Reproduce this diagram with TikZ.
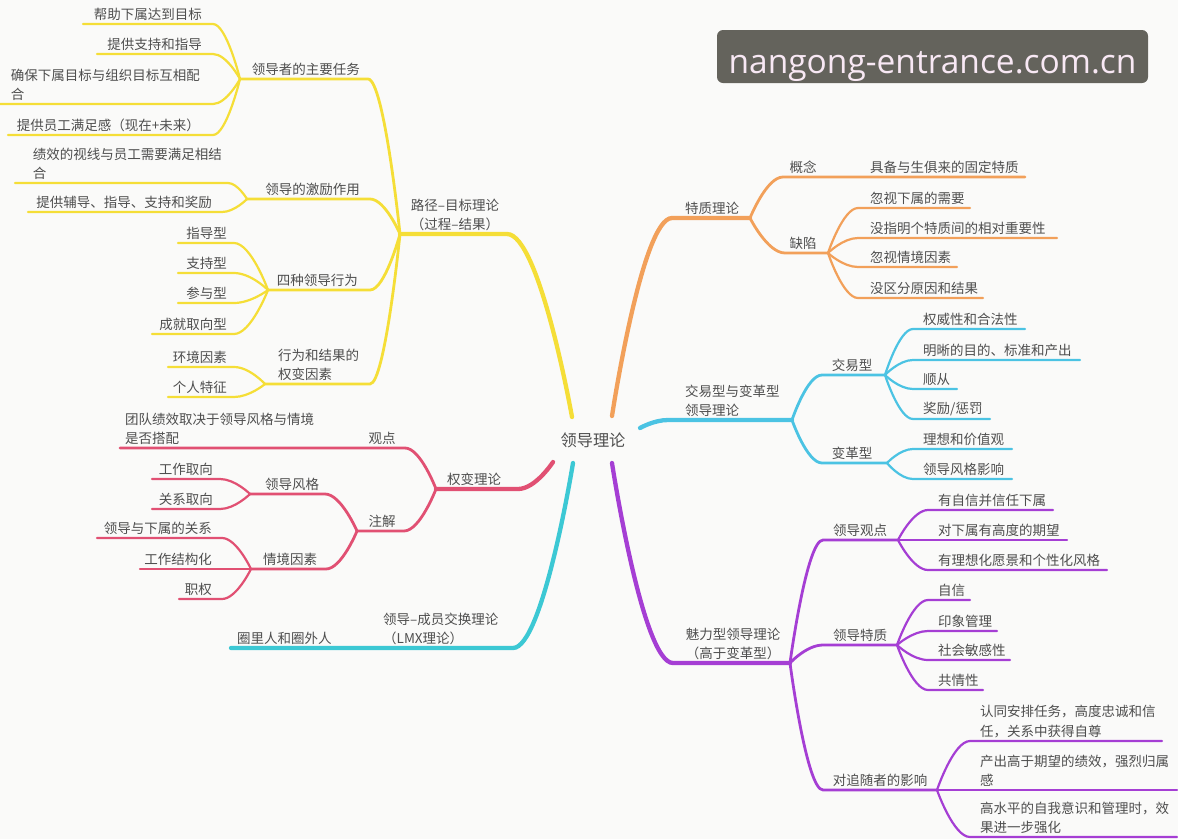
\documentclass[tikz,border=0pt]{standalone}
\usepackage{fontspec}
\setmainfont{Noto Sans CJK SC}
\newfontfamily\wmfont{Open Sans}
\usetikzlibrary{calc}
\definecolor{bgc}{RGB}{250,250,249}
\definecolor{tc}{RGB}{78,78,78}
\definecolor{cY}{RGB}{245,222,55}
\definecolor{cO}{RGB}{242,160,90}
\definecolor{cC}{RGB}{75,195,227}
\definecolor{cR}{RGB}{225,80,115}
\definecolor{cL}{RGB}{60,200,212}
\definecolor{cP}{RGB}{165,62,212}
\definecolor{wmbg}{RGB}{100,99,92}
\definecolor{wmtx}{RGB}{248,232,244}
\tikzset{
  fanto/.style={to path={let \p1=(\tikztostart), \p2=(\tikztotarget) in
     .. controls (\p1) and ({0.5*\x1+0.5*\x2},\y2) .. (\p2) \tikztonodes}},
  txt/.style={font=\fontsize{13.5}{19.5}\selectfont, text=tc, inner sep=0pt, align=left},
  mainln/.style={line width=4.3pt, line cap=round},
  midln/.style={line width=2.8pt, line cap=round},
  lfln/.style={line width=2.2pt, line cap=round}
}
% left leaf: color, knot, id, near x, far x, line y, text, text right x
\newcommand\leafL[8]{%
  \coordinate (#3n) at (#4,#6); \coordinate (#3f) at (#5,#6);
  \draw[lfln,#1] (#2) to[fanto] (#3n) -- (#3f);
  \node[txt,anchor=south east] (#3) at (#8,#6-3) {#7};}
% right leaf: color, knot, id, near x, far x, line y, text, text left x
\newcommand\leafR[8]{%
  \coordinate (#3n) at (#4,#6); \coordinate (#3f) at (#5,#6);
  \draw[lfln,#1] (#2) to[fanto] (#3n) -- (#3f);
  \node[txt,anchor=south west] (#3) at (#8,#6-3) {#7};}
\begin{document}
\begin{tikzpicture}[x=1pt,y=-1pt]
\useasboundingbox (0,0) rectangle (1178,839);
\fill[bgc] (0,0) rectangle (1178,839);

% watermark
\node[fill=wmbg, rounded corners=6pt, minimum width=431pt, minimum height=53pt, inner sep=0pt] (wm) at (932.5,56.5) {};
\node[text=wmtx, font=\wmfont\fontsize{33.5}{33.5}\selectfont, inner sep=0pt, anchor=base] (wmt) at (932.5,73) {nangong-entrance.com.cn};

% root
\node[font=\fontsize{16.2}{16.2}\selectfont, text=tc, inner sep=0pt] (root) at (593,440) {领导理论};

% ===== yellow: path-goal =====
\coordinate (cy) at (572,417);
\coordinate (Y0) at (400,234);
\coordinate (Ya) at (507,234);
\draw[mainln,cY] (cy) to[fanto] (Ya) -- (Y0);
\node[txt,align=center,anchor=south] (ty) at (455,231) {路径–目标理论\\（过程–结果）};

\coordinate (K1) at (240,79); \coordinate (K1a) at (368,79);
\draw[midln,cY] (Y0) to[fanto] (K1a) -- (K1);
\node[txt,anchor=south east] (tk1) at (360,76) {领导者的主要任务};
\leafL{cY}{K1}{y11}{213}{83}{24}{帮助下属达到目标}{202}
\leafL{cY}{K1}{y12}{213}{97}{54}{提供支持和指导}{202}
\leafL{cY}{K1}{y13}{213}{0}{104}{确保下属目标与组织目标互相配\\合}{200}
\leafL{cY}{K1}{y14}{213}{8}{135}{提供员工满足感（现在+未来）}{200}

\coordinate (K2) at (247,199); \coordinate (K2a) at (370,199);
\draw[midln,cY] (Y0) to[fanto] (K2a) -- (K2);
\node[txt,anchor=south east] (tk2) at (360,196) {领导的激励作用};
\leafL{cY}{K2}{y21}{228}{15}{183}{绩效的视线与员工需要满足相结\\合}{222}
\leafL{cY}{K2}{y22}{222}{28}{212}{提供辅导、指导、支持和奖励}{212}

\coordinate (K3) at (268,290); \coordinate (K3a) at (370,290);
\draw[midln,cY] (Y0) to[fanto] (K3a) -- (K3);
\node[txt,anchor=south east] (tk3) at (358,287) {四种领导行为};
\leafL{cY}{K3}{y31}{234}{178}{243}{指导型}{227}
\leafL{cY}{K3}{y32}{234}{178}{273}{支持型}{227}
\leafL{cY}{K3}{y33}{234}{178}{303}{参与型}{227}
\leafL{cY}{K3}{y34}{234}{152}{334}{成就取向型}{227}

\coordinate (K4) at (265,384); \coordinate (K4a) at (370,384);
\draw[midln,cY] (Y0) to[fanto] (K4a) -- (K4);
\node[txt,anchor=south west] (tk4) at (278,381) {行为和结果的\\权变因素};
\leafL{cY}{K4}{y41}{234}{168}{367}{环境因素}{227}
\leafL{cY}{K4}{y42}{234}{168}{397}{个人特征}{227}

% ===== red: contingency =====
\coordinate (cr) at (553,462);
\coordinate (R0) at (436,489); \coordinate (Ra) at (518,489);
\draw[mainln,cR] (cr) to[fanto] (Ra) -- (R0);
\node[txt,anchor=south] (tr) at (474,486) {权变理论};

\coordinate (R1a) at (405,448); \coordinate (R1b) at (120,448);
\draw[midln,cR] (R0) to[fanto] (R1a) -- (R1b);
\node[txt,anchor=south] (tr1) at (382,445) {观点};
\node[txt,anchor=south west] (tr1l) at (125,445) {团队绩效取决于领导风格与情境\\是否搭配};

\coordinate (R2) at (357,531); \coordinate (R2a) at (404,531);
\draw[midln,cR] (R0) to[fanto] (R2a) -- (R2);
\node[txt,anchor=south] (tr2) at (382,528) {注解};

\coordinate (R3) at (250,494); \coordinate (R3a) at (325,494);
\draw[midln,cR] (R2) to[fanto] (R3a) -- (R3);
\node[txt,anchor=south] (tr3) at (292,491) {领导风格};
\leafL{cR}{R3}{r31}{220}{152}{479}{工作取向}{213}
\leafL{cR}{R3}{r32}{220}{152}{509}{关系取向}{213}

\coordinate (R4) at (251,569); \coordinate (R4a) at (326,569);
\draw[midln,cR] (R2) to[fanto] (R4a) -- (R4);
\node[txt,anchor=south] (tr4) at (290,566) {情境因素};
\leafL{cR}{R4}{r41}{222}{97}{538}{领导与下属的关系}{212}
\leafL{cR}{R4}{r42}{222}{140}{569}{工作结构化}{212}
\leafL{cR}{R4}{r43}{222}{179}{599}{职权}{212}

% ===== teal: LMX =====
\coordinate (cl) at (573,463);
\coordinate (La) at (513,648); \coordinate (L0) at (370,648); \coordinate (Lb) at (231,648);
\draw[mainln,cL] (cl) to[fanto] (La) -- (L0) -- (Lb);
\node[txt,anchor=south west] (tl) at (383,645) {领导–成员交换理论\\（LMX理论）};
\node[txt,anchor=south west] (tll) at (237,645) {圈里人和圈外人};

% ===== orange: trait =====
\coordinate (co) at (612,416);
\coordinate (Oa) at (672,218); \coordinate (O0) at (750,218);
\draw[mainln,cO] (co) to[fanto] (Oa) -- (O0);
\node[txt,anchor=south] (to) at (712,215) {特质理论};

\coordinate (O1a) at (783,177); \coordinate (O1b) at (1025,177);
\draw[midln,cO] (O0) to[fanto] (O1a) -- (O1b);
\node[txt,anchor=south] (to1) at (803,174) {概念};
\node[txt,anchor=south west] (to1l) at (870,174) {具备与生俱来的固定特质};

\coordinate (O2) at (828,253); \coordinate (O2a) at (785,253);
\draw[midln,cO] (O0) to[fanto] (O2a) -- (O2);
\node[txt,anchor=south] (to2) at (803,250) {缺陷};
\leafR{cO}{O2}{o21}{858}{970}{208}{忽视下属的需要}{870}
\leafR{cO}{O2}{o22}{858}{1057}{238}{没指明个特质间的相对重要性}{870}
\leafR{cO}{O2}{o23}{858}{957}{267}{忽视情境因素}{870}
\leafR{cO}{O2}{o24}{858}{983}{298}{没区分原因和结果}{870}

% ===== cyan: transactional / transformational =====
\coordinate (cc) at (640,428);
\coordinate (Ca) at (668,420); \coordinate (C0) at (792,420);
\draw[mainln,cC] (cc) to[fanto] (Ca) -- (C0);
\node[txt,anchor=south west] (tc0) at (685,417) {交易型与变革型\\领导理论};

\coordinate (C1) at (885,375); \coordinate (C1a) at (822,375);
\draw[midln,cC] (C0) to[fanto] (C1a) -- (C1);
\node[txt,anchor=south] (tc1) at (852,372) {交易型};
\leafR{cC}{C1}{c11}{913}{1025}{329}{权威性和合法性}{923}
\leafR{cC}{C1}{c12}{913}{1080}{360}{明晰的目的、标准和产出}{923}
\leafR{cC}{C1}{c13}{913}{957}{389}{顺从}{923}
\leafR{cC}{C1}{c14}{913}{990}{419}{奖励/惩罚}{923}

\coordinate (C2) at (887,463); \coordinate (C2a) at (822,463);
\draw[midln,cC] (C0) to[fanto] (C2a) -- (C2);
\node[txt,anchor=south] (tc2) at (852,460) {变革型};
\leafR{cC}{C2}{c21}{913}{1012}{449}{理想和价值观}{923}
\leafR{cC}{C2}{c22}{913}{1012}{479}{领导风格影响}{923}

% ===== purple: charismatic =====
\coordinate (cp) at (612,463);
\coordinate (Pa) at (673,663); \coordinate (P0) at (790,663);
\draw[mainln,cP] (cp) to[fanto] (Pa) -- (P0);
\node[txt,align=center,anchor=south] (tp) at (733,660) {魅力型领导理论\\（高于变革型）};

\coordinate (P1) at (898,540); \coordinate (P1a) at (823,540);
\draw[midln,cP] (P0) to[fanto] (P1a) -- (P1);
\node[txt,anchor=south] (tp1) at (860,537) {领导观点};
\leafR{cP}{P1}{p11}{928}{1053}{510}{有自信并信任下属}{938}
\leafR{cP}{P1}{p12}{928}{1067}{540}{对下属有高度的期望}{938}
\leafR{cP}{P1}{p13}{928}{1107}{570}{有理想化愿景和个性化风格}{938}

\coordinate (P2) at (897,645); \coordinate (P2a) at (823,645);
\draw[midln,cP] (P0) to[fanto] (P2a) -- (P2);
\node[txt,anchor=south] (tp2) at (860,642) {领导特质};
\leafR{cP}{P2}{p21}{928}{970}{600}{自信}{938}
\leafR{cP}{P2}{p22}{928}{997}{631}{印象管理}{938}
\leafR{cP}{P2}{p23}{928}{1010}{660}{社会敏感性}{938}
\leafR{cP}{P2}{p24}{928}{983}{690}{共情性}{938}

\coordinate (P3) at (937,790); \coordinate (P3a) at (823,790);
\draw[midln,cP] (P0) to[fanto] (P3a) -- (P3);
\node[txt,anchor=south] (tp3) at (880,787) {对追随者的影响};
\leafR{cP}{P3}{p31}{970}{1162}{741}{认同安排任务，高度忠诚和信\\任，关系中获得自尊}{980}
\leafR{cP}{P3}{p32}{970}{1177}{790}{产出高于期望的绩效，强烈归属\\感}{980}
\leafR{cP}{P3}{p33}{970}{1177}{837}{高水平的自我意识和管理时，效\\果进一步强化}{980}
\end{tikzpicture}
\end{document}
